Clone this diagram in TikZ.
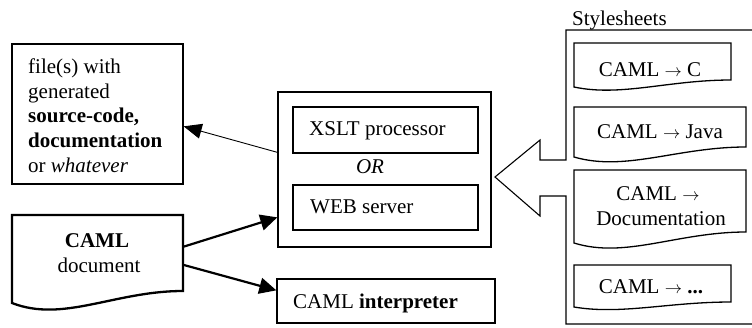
\documentclass[tikz,border=0pt]{standalone}
\usepackage{fontspec}
\setmainfont{Liberation Serif}
\usetikzlibrary{arrows.meta,calc}

% document outline with a wavy bottom edge:
% [style] {left}{top}{right}{right bottom}{left bottom}{dip}
\newcommand\wavydoc[7][]{%
  \draw[outline,#1] (#2,#3) -- (#4,#3) -- (#4,#5)
    .. controls ({#2+0.6*(#4-#2)},#5) and ({#2+0.3*(#4-#2)},{#6+#7}) .. (#2,#6) -- cycle;}
% transformation arrow used in the stylesheet names
\newcommand\toarrow{{\fontsize{17}{20}\selectfont$\rightarrow$}}

\begin{document}
\begin{tikzpicture}[x=1pt,y=-1pt,
  txt/.style={font=\fontsize{21}{24.75}\selectfont, inner sep=0pt},
  rectbox/.style={draw, line width=1.3pt, inner sep=0pt},
  ghost/.style={inner sep=0pt},
  outline/.style={line width=1.3pt, line join=miter},
  thinarrow/.style={line width=0.9pt, -{Triangle[length=18pt,width=15pt]}},
  thickarrow/.style={line width=2.2pt, -{Triangle[length=17pt,width=16pt]}},
]
\useasboundingbox (0,0) rectangle (752,327);

% generated output
\node[rectbox, minimum width=171pt, minimum height=140pt] (files) at (97.5,114) {};
\node[txt, anchor=base west] (f1) at (28,73) {file(s) with};
\node[txt, anchor=base west] (f2) at (28,98) {generated};
\node[txt, anchor=base west] (f3) at (28,122) {\textbf{source-code,}};
\node[txt, anchor=base west] (f4) at (28,147) {\textbf{documentation}};
\node[txt, anchor=base west] (f5) at (28,172) {or \textit{whatever}};

% CAML source document
\wavydoc[line width=2.3pt]{12}{215}{183}{291}{303}{20}
\node[ghost, minimum width=171pt, minimum height=88pt] (camldoc) at (97.5,259) {};
\node[txt, anchor=base] (d1) at (97,247) {\textbf{CAML}};
\node[txt, anchor=base] (d2) at (99,272) {document};

% processing engine
\node[rectbox, minimum width=213pt, minimum height=155pt] (mid) at (384.5,169.5) {};
\node[rectbox, minimum width=185pt, minimum height=46pt] (xslt) at (385.5,130) {};
\node[txt, anchor=base west] (xsltlabel) at (309,135) {XSLT processor};
\node[txt, anchor=base] (orlabel) at (370,173) {\textit{OR}};
\node[rectbox, minimum width=185pt, minimum height=45pt] (web) at (385.5,207.5) {};
\node[txt, anchor=base west] (weblabel) at (310,213) {WEB server};

% interpreter
\node[rectbox, minimum width=218pt, minimum height=44pt] (interp) at (386,301) {};
\node[txt, anchor=base west] (interplabel) at (293,308) {CAML \textbf{interpreter}};

% stylesheet container with its arrow-shaped side
\node[txt, anchor=base west] (stylelabel) at (572,25) {Stylesheets};
\draw[outline, line width=1.1pt] (753,30) -- (566,30) -- (566,160) -- (540,160) -- (540,140)
  -- (495,177) -- (540,216) -- (540,196) -- (566,196) -- (566,324) -- (753,324);

\wavydoc{574}{43}{731}{80}{87}{10}
\node[txt, anchor=base] (s1) at (650,76) {CAML \toarrow{} C};
\wavydoc{574}{107}{746}{147}{157}{15}
\node[txt, anchor=base] (s2) at (660,138) {CAML \toarrow{} Java};
\wavydoc{574}{170}{746}{232}{243}{16}
\node[txt, anchor=base] (s3a) at (658,200) {CAML \toarrow};
\node[txt, anchor=base] (s3b) at (661,225) {Documentation};
\wavydoc{574}{265}{731}{302}{307}{8}
\node[txt, anchor=base] (s4) at (651,293) {CAML \toarrow{} \textbf{...}};

% connectors
\draw[thinarrow] ($(mid.north west)+(0,61)$) -- ($(files.north east)+(0,83)$);
\draw[thickarrow] ($(camldoc.north east)+(0,32)$) -- ($(mid.north west)+(0,126)$);
\draw[thickarrow] ($(camldoc.north east)+(0,50)$) -- ($(interp.north west)+(0,12)$);
\end{tikzpicture}
\end{document}
